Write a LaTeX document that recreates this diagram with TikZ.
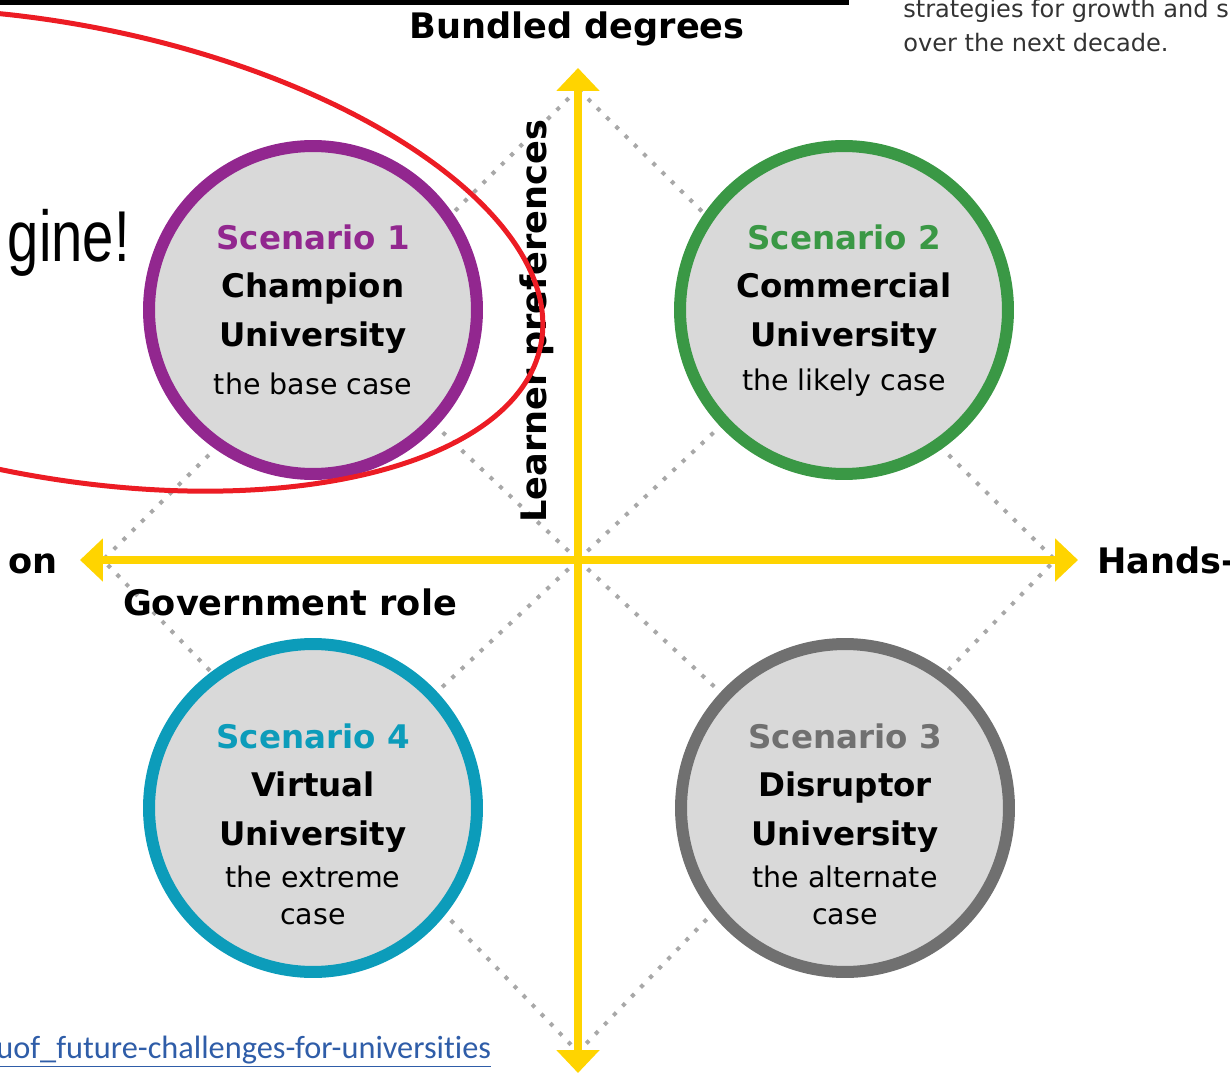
\documentclass[tikz,border=0pt]{standalone}
\usepackage{fontspec}
\setmainfont{DejaVu Sans}
\newfontfamily\slidefont{Liberation Sans}
\newfontfamily\linkfont[Ligatures={NoCommon,NoRare}]{Carlito}
\usetikzlibrary{positioning, arrows.meta}

\definecolor{axisyellow}{HTML}{FFD400}
\definecolor{dotgrey}{HTML}{A8A8A8}
\definecolor{ringpurple}{HTML}{92278F}
\definecolor{ringgreen}{HTML}{3A9845}
\definecolor{ringteal}{HTML}{0C9CBA}
\definecolor{ringgrey}{HTML}{707070}
\definecolor{discfill}{HTML}{D9D9D9}
\definecolor{linkblue}{HTML}{2F5DA8}
\definecolor{markred}{HTML}{EC1C24}
\definecolor{bodygrey}{HTML}{333333}

\begin{document}
\begin{tikzpicture}[
                x=0.02cm, y=-0.02cm, % 1 像素 = 0.02cm
                axis/.style={
                    draw=axisyellow, % 黄色坐标轴
                    line width=0.16cm,
                    {Triangle[width=0.84cm,length=0.46cm]}-{Triangle[width=0.84cm,length=0.46cm]}
                },
                dotline/.style={
                    draw=dotgrey, % 灰色点线
                    line width=0.08cm,
                    dash pattern=on 0.08cm off 0.18cm
                },
                disc/.style={
                    circle, % 圆形节点
                    draw=#1, % 圆环颜色
                    fill=discfill,
                    line width=0.24cm,
                    minimum size=6.56cm,
                    inner sep=0
                },
                axislabel/.style={font=\fontsize{20}{24}\selectfont\bfseries, inner sep=0},
                title/.style={font=\fontsize{18.5}{22}\selectfont\bfseries, inner sep=0, anchor=base},
                case/.style={font=\fontsize{16.2}{19}\selectfont, inner sep=0, anchor=base}
            ]
            \useasboundingbox (0,0) rectangle (1230,1074);
            \clip (0,0) rectangle (1230,1074);

            % 顶部黑线
            \fill[black] (0,0) rectangle (849,5);

            % 坐标轴端点与菱形顶点
            \coordinate (O) at (578,560);
            \coordinate (N) at (578,68);
            \coordinate (S) at (578,1073);
            \coordinate (W) at (80,560);
            \coordinate (E) at (1078,560);
            \coordinate (dN) at (578,89);
            \coordinate (dW) at (103,560);
            \coordinate (dS) at (578,1052);
            \coordinate (dE) at (1055,560);
            \coordinate (c1) at (313,310);
            \coordinate (c2) at (844,310);
            \coordinate (c3) at (845,808);
            \coordinate (c4) at (313,808);

            % 点线：菱形与对角线
            \draw[dotline] (dN) -- (dW) -- (dS) -- (dE) -- cycle;
            \foreach \i in {1, ..., 4} {
                \draw[dotline] (O) -- (c\i);
            }

            % 坐标轴
            \draw[axis] (S) -- (N);
            \draw[axis] (W) -- (E);

            % 四个情景圆
            \foreach \i/\x/\y/\col/\nm in {1/313/310/ringpurple/Champion, 2/844/310/ringgreen/Commercial,
                                           3/845/808/ringgrey/Disruptor, 4/313/808/ringteal/Virtual} {
                \node[disc=\col] (s\i) at (c\i) {};
                \node[title, text=\col] (sc\i) at (\x,\y-60) {Scenario \i};
                \node[title] (nm\i) at (\x,\y-12) {\nm};
                \node[title] (un\i) at (\x,\y+37) {University};
            }
            \node[case] (cs1) at (313,395) {the base case};
            \node[case] (cs2) at (844,390) {the likely case};
            \node[case] (cs4) at (313,887) {the extreme};
            \node[case, below=0.4cm of cs4, anchor=north] (cs4b) {case};
            \node[case] (cs3) at (845,887) {the alternate};
            \node[case, below=0.4cm of cs3, anchor=north] (cs3b) {case};

            % 轴标签
            \node[axislabel, anchor=base] (top) at (577,39) {Bundled degrees};
            \node[axislabel, anchor=base] (gov) at (290,615) {Government role};
            \node[axislabel, rotate=90] (learn) at (537,321) {Learner preferences};
            \node[axislabel, anchor=base east] (left) at (58,573) {on};
            \node[axislabel, anchor=base west] (right) at (1097,573) {Hands-};

            % 右上角正文
            \node[anchor=base west, inner sep=0, text=bodygrey, font=\fontsize{13.7}{16}\selectfont] (p1) at (903,18) {strategies for growth and s};
            \node[anchor=base west, inner sep=0, text=bodygrey, font=\fontsize{13.7}{16}\selectfont] (p2) at (903,52) {over the next decade.};

            % 幻灯片文字与链接
            \node[anchor=base east, inner sep=0, font=\slidefont\fontsize{41}{48}\selectfont] (big) at (130,262) {\scalebox{0.78}[1]{gine!}};
            \node[anchor=base west, inner sep=0, text=linkblue, font=\linkfont\fontsize{18.4}{22}\selectfont] (link) at (-4,1058) {\underline{uof\_future-challenges-for-universities}};

            % 红色圈注
            \draw[markred, line width=0.1cm, rotate around={-11:(55,250)}] (55,250) ellipse [x radius=495, y radius=226];
\end{tikzpicture}
\end{document}
